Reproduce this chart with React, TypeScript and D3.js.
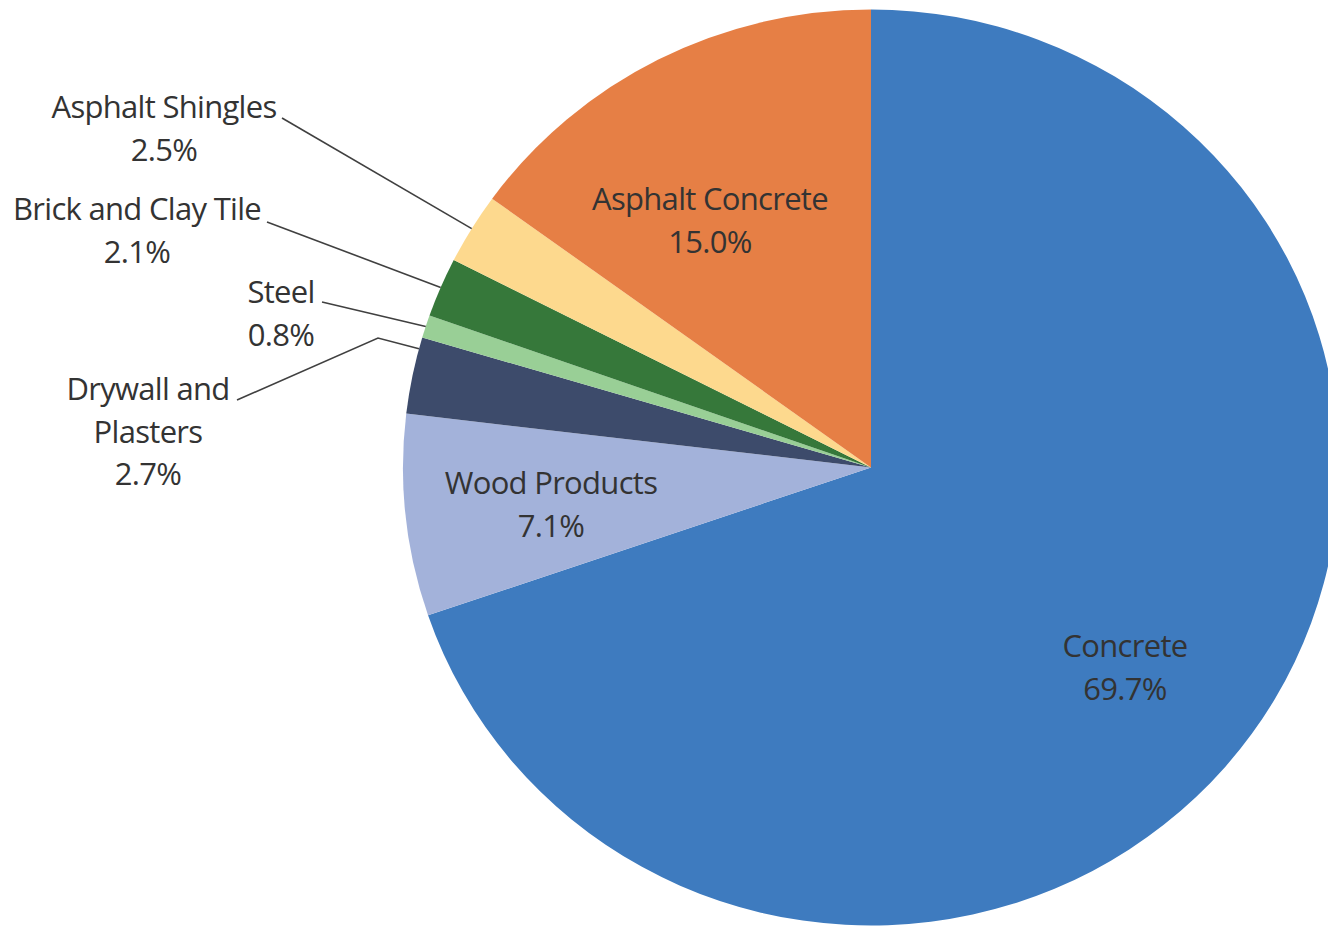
import React from "react";
import * as d3 from "d3";

const categories = ["Concrete", "Wood Products", "Drywall and Plasters", "Steel", "Brick and Clay Tile", "Asphalt Shingles", "Asphalt Concrete"];
const values = [69.7, 7.1, 2.7, 0.8, 2.1, 2.5, 15.0];
const valueLabels = ["69.7%", "7.1%", "2.7%", "0.8%", "2.1%", "2.5%", "15.0%"];
const colors = ["#3E7BBF", "#A3B2DA", "#3D4B6B", "#99CF96", "#36783A", "#FDD98E", "#E67F45"];

// label layout: text lines, anchor center x, first baseline y, leader start, optional elbow, attach fraction within slice
type Lab = { lines: string[]; x: number; y: number; lead?: [number, number]; elbow?: [number, number]; frac?: number };
const labelLayout: Lab[] = [
  { lines: ["Concrete"], x: 1125, y: 657 },
  { lines: ["Wood Products"], x: 551, y: 494 },
  { lines: ["Drywall and", "Plasters"], x: 148, y: 400, lead: [237, 400], elbow: [378, 338], frac: 0.85 },
  { lines: ["Steel"], x: 281, y: 303, lead: [322, 302], frac: 0.5 },
  { lines: ["Brick and Clay Tile"], x: 137, y: 220, lead: [267, 222], frac: 0.5 },
  { lines: ["Asphalt Shingles"], x: 164, y: 118, lead: [282, 118], frac: 0.5 },
  { lines: ["Asphalt Concrete"], x: 710, y: 210 },
];

const W = 1328, H = 927;
const cx = 871, cy = 467.5, r = 458, sx = 468 / 458;
const lineH = 42.5;

export default function App() {
  const pie = d3.pie<number>().sort(null).value((d) => d)(values);
  const arc = d3.arc<d3.PieArcDatum<number>>().innerRadius(0).outerRadius(r);
  const edge = (a: number): [number, number] => [cx + r * sx * Math.sin(a), cy - r * Math.cos(a)];
  return (
    <svg width={W} height={H} style={{ position: "absolute", left: 0, top: 0 }}>
      <rect width={W} height={H} fill="#fff" />
      <g transform={`translate(${cx},${cy}) scale(${sx},1)`}>
        {pie.map((p, i) => (
          <path key={i} d={arc(p) || ""} fill={colors[i]} />
        ))}
      </g>
      {labelLayout.map((l, i) => {
        if (!l.lead) return null;
        const p = pie[i];
        const a = p.startAngle + (p.endAngle - p.startAngle) * (l.frac ?? 0.5);
        const e = edge(a);
        const pts: [number, number][] = [l.lead];
        if (l.elbow) pts.push(l.elbow);
        pts.push(e);
        return (
          <polyline key={"l" + i} points={pts.map((q) => q.join(",")).join(" ")} fill="none" stroke="#404040" strokeWidth={1.6} />
        );
      })}
      {labelLayout.map((l, i) => (
        <text key={"t" + i} x={l.x} y={l.y} textAnchor="middle" fontFamily="'Open Sans', sans-serif" fontSize={31} fill="#333" letterSpacing={-0.7}>
          {[...l.lines, valueLabels[i]].map((s, j) => (
            <tspan key={j} x={l.x} y={l.y + j * lineH}>{s}</tspan>
          ))}
        </text>
      ))}
    </svg>
  );
}
